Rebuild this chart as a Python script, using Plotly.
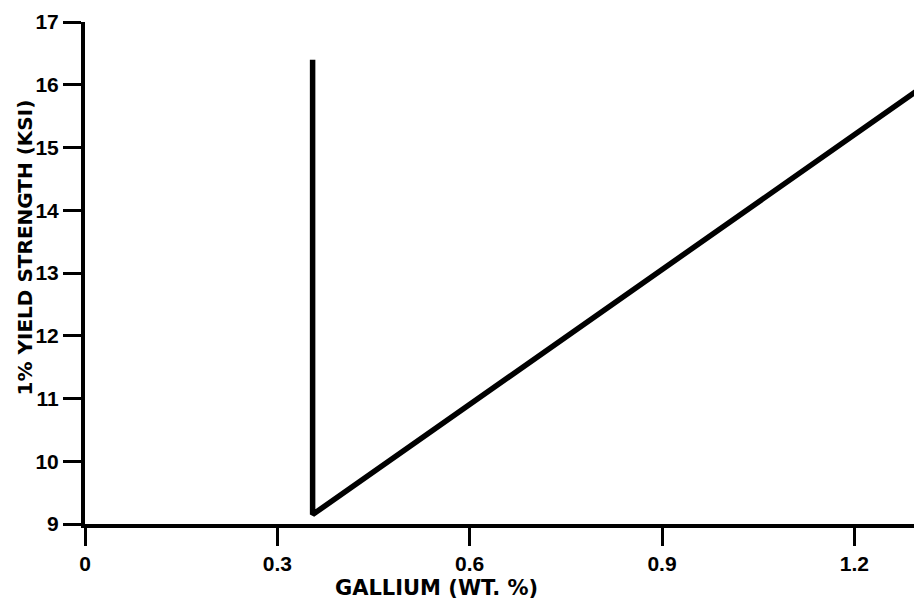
import plotly.graph_objects as go

# Yield strength versus gallium content: vertical drop at the solubility limit,
# then a linear rise with increasing gallium.
gallium_wt = [0.355, 0.355, 1.30]
yield_ksi = [16.4, 9.15, 15.92]

x_ticks = [0, 0.3, 0.6, 0.9, 1.2]
x_tick_text = ["0", "0.3", "0.6", "0.9", "1.2"]
y_ticks = [9, 10, 11, 12, 13, 14, 15, 16, 17]
y_tick_text = [str(v) for v in y_ticks]

TITLE_FONT = "DejaVu Sans"
TICK_FONT = "Liberation Sans"

fig = go.Figure()
fig.add_trace(go.Scatter(
    x=gallium_wt, y=yield_ksi, mode="lines",
    line=dict(color="black", width=5.5),
    hoverinfo="skip", showlegend=False,
))

axis_common = dict(
    showgrid=False, zeroline=False,
    showline=True, linecolor="black",
    ticks="outside", tickcolor="black", tickwidth=2.5, ticklen=18,
    tickfont=dict(family=TICK_FONT, size=21, color="black", weight="bold"),
)

fig.update_xaxes(
    range=[0, 1.293], tickvals=x_ticks, ticktext=x_tick_text,
    linewidth=3.5, **axis_common,
)
fig.update_yaxes(
    range=[9, 17], tickvals=y_ticks, ticktext=y_tick_text,
    linewidth=4, **axis_common,
)

fig.add_annotation(
    text="GALLIUM (WT. %)", xref="x", yref="paper",
    x=0.548, y=-0.1275, xanchor="center", yanchor="middle",
    showarrow=False, font=dict(family=TITLE_FONT, size=21, color="black", weight="bold"),
)
fig.add_annotation(
    text="1% YIELD STRENGTH (KSI)", xref="paper", yref="paper",
    x=-0.073, y=0.552, xanchor="center", yanchor="middle", textangle=-90,
    showarrow=False, font=dict(family=TITLE_FONT, size=20, color="black", weight="bold"),
)

fig.update_layout(
    width=914, height=604,
    margin=dict(l=85, r=0, t=22, b=80),
    paper_bgcolor="white", plot_bgcolor="white",
)

fig.write_html("out.html")
